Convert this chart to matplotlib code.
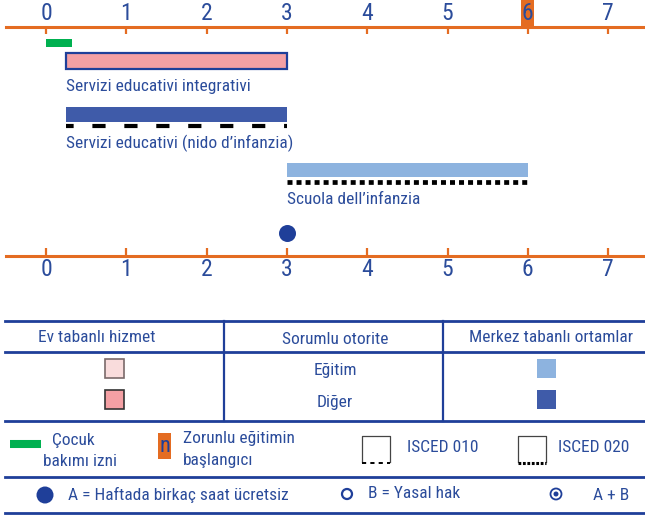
import matplotlib
matplotlib.use("Agg")
import matplotlib.pyplot as plt
from matplotlib.patches import Rectangle, Circle

plt.rcParams['font.family'] = ['Roboto Condensed', 'DejaVu Sans']
plt.rcParams['lines.scale_dashes'] = False

# data
ages = [0, 1, 2, 3, 4, 5, 6, 7]
programmes = ["Servizi educativi integrativi",
              "Servizi educativi (nido d\u2019infanzia)",
              "Scuola dell\u2019infanzia"]
prog_start = [0.25, 0.25, 3.0]
prog_end = [3.0, 3.0, 6.0]
leave_start, leave_end = 0.0, 0.33
compulsory_age = 6
free_hours_age = 3

NAVY = "#1F3F99"
TXT = "#2B4C9B"
ORANGE = "#E46C22"
GREEN = "#00B050"
PINK = "#F4A0A4"
LPINK = "#F9DCDC"
DBLUE = "#3F5BA9"
LBLUE = "#8DB3DF"

fig = plt.figure(figsize=(6.45, 5.15), dpi=100)

# chart axes: x in years, y in pixel rows
px0, px_per_year = 46.0, 80.3
ax = fig.add_axes([0, 0, 1, 1])
ax.set_xlim(-px0 / px_per_year, (645 - px0) / px_per_year)
ax.set_ylim(515, 0)
ax.axis("off")

x_left = -40 / px_per_year
x_right = 645 / px_per_year

# top axis
ax.add_patch(Rectangle((compulsory_age - 0.085, 0), 0.165, 26.5,
                       facecolor=ORANGE, edgecolor="none", zorder=1))
ax.plot([x_left, x_right], [26.7, 26.7], color=ORANGE, lw=2.2, zorder=2)
ax.vlines(ages, 27, 33.5, color=ORANGE, lw=1.6)
for a in ages:
    ax.text(a, 13.5, str(a), ha="center", va="center", fontsize=17, color=TXT, zorder=3)

# bottom axis
ax.plot([x_left, x_right], [256, 256], color=ORANGE, lw=2.2)
ax.vlines(ages, 248, 256, color=ORANGE, lw=1.6)
for a in ages:
    ax.text(a, 270, str(a), ha="center", va="center", fontsize=17, color=TXT)

# childcare leave
ax.barh(43, leave_end - leave_start, left=leave_start, height=8, color=GREEN)

# programmes
widths = [e - s for s, e in zip(prog_start, prog_end)]
ax.barh(61, widths[0], left=prog_start[0], height=16, color=PINK,
        edgecolor=NAVY, linewidth=1.6)
ax.text(prog_start[0], 86, programmes[0], ha="left", va="center", fontsize=12.5, color=TXT)

ax.barh(114.5, widths[1], left=prog_start[1], height=15, color=DBLUE)
ax.plot([prog_start[1], prog_end[1]], [125.5, 125.5], color="black", lw=3.0,
        linestyle=(4, (9.5, 13.5)), solid_capstyle="butt", dash_capstyle="butt")
ax.text(prog_start[1], 143, programmes[1], ha="left", va="center", fontsize=12.5, color=TXT)

ax.barh(170, widths[2], left=prog_start[2], height=14, color=LBLUE)
ax.plot([prog_start[2], prog_end[2]], [181.5, 181.5], color="black", lw=3.4,
        linestyle=(0, (3.6, 2.9)), dash_capstyle="butt")
ax.text(prog_start[2], 200, programmes[2], ha="left", va="center", fontsize=12.5, color=TXT)

# free hours marker
ax.scatter([free_hours_age], [233], s=150, color=NAVY, zorder=4, linewidths=0)

# legend axes in pixel coordinates
lg = fig.add_axes([0, 0, 1, 1])
lg.set_xlim(0, 645)
lg.set_ylim(515, 0)
lg.axis("off")

for y in [321, 351.5, 421, 477, 513]:
    lg.plot([5, 645], [y, y], color=NAVY, lw=2.0)
for x in [224, 443]:
    lg.plot([x, x], [321, 421], color=NAVY, lw=1.6)

lfs = 12.5
lg.text(97, 337, "Ev tabanl\u0131 hizmet", ha="center", va="center", fontsize=lfs, color=TXT)
lg.text(335, 339, "Sorumlu otorite", ha="center", va="center", fontsize=lfs, color=TXT)
lg.text(551, 337, "Merkez tabanl\u0131 ortamlar", ha="center", va="center", fontsize=lfs, color=TXT)
lg.text(335, 370, "E\u011fitim", ha="center", va="center", fontsize=lfs, color=TXT)
lg.text(335, 402, "Di\u011fer", ha="center", va="center", fontsize=lfs, color=TXT)

lg.add_patch(Rectangle((105, 359), 19, 19, facecolor=LPINK, edgecolor="#7A6A6A", lw=1.2))
lg.add_patch(Rectangle((105, 390), 19, 19, facecolor=PINK, edgecolor="#333333", lw=1.2))
lg.add_patch(Rectangle((537, 359), 19, 19, facecolor=LBLUE, edgecolor="none"))
lg.add_patch(Rectangle((537, 390), 19, 19, facecolor=DBLUE, edgecolor="none"))

# row: leave / compulsory / ISCED
lg.plot([10, 41], [444, 444], color=GREEN, lw=5.8, solid_capstyle="butt")
lg.text(52, 440, "\u00c7ocuk", ha="left", va="center", fontsize=lfs, color=TXT)
lg.text(43, 461, "bak\u0131m\u0131 izni", ha="left", va="center", fontsize=lfs, color=TXT)

lg.add_patch(Rectangle((158, 433), 13, 26, facecolor=ORANGE, edgecolor="none"))
lg.text(164.5, 447, "n", ha="center", va="center", fontsize=16, color=NAVY)
lg.text(183, 438, "Zorunlu e\u011fitimin", ha="left", va="center", fontsize=lfs, color=TXT)
lg.text(183, 461, "ba\u015flang\u0131c\u0131", ha="left", va="center", fontsize=lfs, color=TXT)

for x0, style, lw in [(362, (0, (3.0, 3.0)), 1.4), (518, (0, (2.0, 1.2)), 2.2)]:
    lg.plot([x0, x0, x0 + 28, x0 + 28], [462, 436, 436, 462], color="#444444", lw=0.9)
    lg.plot([x0, x0 + 28], [463, 463], color="black", lw=lw, linestyle=style)
lg.text(407, 447, "ISCED 010", ha="left", va="center", fontsize=lfs, color=TXT)
lg.text(558, 447, "ISCED 020", ha="left", va="center", fontsize=lfs, color=TXT)

# row: A / B / A+B
lg.add_patch(Circle((45, 495), 8.5, facecolor=NAVY, edgecolor="none"))
lg.text(68, 495, "A = Haftada birka\u00e7 saat \u00fccretsiz", ha="left", va="center",
        fontsize=lfs, color=TXT)
lg.add_patch(Circle((347, 494), 5, facecolor="white", edgecolor=NAVY, lw=1.6))
lg.text(368, 494, "B = Yasal hak", ha="left", va="center", fontsize=lfs, color=TXT)
lg.add_patch(Circle((556, 494), 5.5, facecolor="white", edgecolor=NAVY, lw=1.3))
lg.add_patch(Circle((556, 494), 2.5, facecolor=NAVY, edgecolor="none"))
lg.text(593, 495, "A + B", ha="left", va="center", fontsize=lfs, color=TXT)

fig.savefig("out.png", dpi=100)
